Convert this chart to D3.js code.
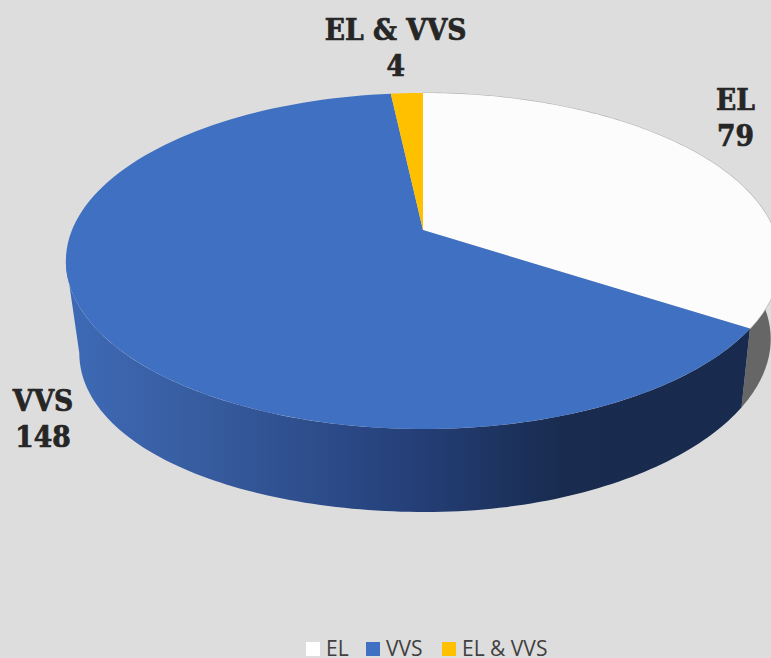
<!DOCTYPE html>
<html><head><meta charset="utf-8">
<script src="https://cdn.jsdelivr.net/npm/d3@7"></script>
<style>html,body{margin:0;padding:0;background:#dddddd;overflow:hidden}svg{display:block}</style>
</head><body><div id="c"></div>
<script>
const categories = ["EL", "VVS", "EL & VVS"];
const values = [79, 148, 4];
const sliceColors = ["#fcfcfc", "#4070c1", "#ffc000"];
const sideColors = ["#666666", "url(#blueSide)", "#b38600"];
const W = 771, H = 658;
const svg = d3.select("#c").append("svg").attr("width", W).attr("height", H);
svg.append("rect").attr("width", W).attr("height", H).attr("fill", "#dddddd");

const cx = 423, cy = 230, persp = -0.1845, kx = 351, ky = 162.3;
const shrink = 0.968;
const top3d = a => {
  const u = Math.sin(a), v = -Math.cos(a), w = 1 + persp * v;
  return [cx + kx * u / w, cy + ky * v / w];
};
const low3d = a => {
  const p = top3d(a), px = (p[0] - cx) / 357;
  return [cx + 2 + (p[0] - cx) * shrink, p[1] + 83 + px * px * (px < 0 ? 9 : -5)];
};
const arcs = d3.pie().sort(null).value(d => d)(values);
const line = d3.line();
const sample = (a0, a1) => d3.range(0, 121).map(i => a0 + (a1 - a0) * i / 120);
// the rim is only visible between the two silhouette angles
const frontStart = Math.acos(persp), frontEnd = 2 * Math.PI - frontStart;

const defs = svg.append("defs");
const grad = defs.append("linearGradient").attr("id", "blueSide")
  .attr("gradientUnits", "userSpaceOnUse").attr("x1", 66).attr("x2", 750).attr("y1", 0).attr("y2", 0);
[[0, "#3e6ab6"], [0.2, "#375c9f"], [0.5, "#25407a"], [0.72, "#192c50"], [1, "#182b4f"]]
  .forEach(s => grad.append("stop").attr("offset", s[0]).attr("stop-color", s[1]));

// sides
arcs.forEach((d, i) => {
  // right-hand rim of the first slice runs from the silhouette to its end
  const a0 = Math.max(d.startAngle, i === 0 ? frontStart - 0.5 : frontStart);
  const a1 = Math.min(d.endAngle, frontEnd);
  if (a1 <= a0) return;
  const as = sample(a0, a1);
  svg.append("path")
    .attr("d", line(as.map(top3d).concat(as.slice().reverse().map(low3d))) + "Z")
    .attr("fill", sideColors[i]);
});
// faint edge behind the white slice
svg.append("path").attr("d", line(sample(arcs[0].startAngle, arcs[0].endAngle).map(top3d)))
  .attr("fill", "none").attr("stroke", "#b5b5b5").attr("stroke-width", 1.2);
// top faces
arcs.forEach((d, i) => {
  const as = sample(d.startAngle, d.endAngle);
  svg.append("path")
    .attr("d", line([[cx, cy]].concat(as.map(top3d))) + "Z")
    .attr("fill", sliceColors[i]);
});
// data labels
const labelFont = "'DejaVu Serif Condensed', 'DejaVu Serif', serif";
const labels = [
  { i: 0, x: 735.5, y: 110 },
  { i: 1, x: 43, y: 411 },
  { i: 2, x: 395.7, y: 40 }
];
labels.forEach(l => {
  const t = svg.append("text").attr("text-anchor", "middle")
    .attr("font-family", labelFont).attr("font-weight", 700)
    .attr("font-size", 29.5).attr("fill", "#262626")
    .attr("stroke", "#262626").attr("stroke-width", 0.7);
  t.append("tspan").attr("x", l.x).attr("y", l.y).text(categories[l.i]);
  t.append("tspan").attr("x", l.x).attr("y", l.y + 36).text(values[l.i]);
});
// legend
const legendX = [306, 366, 442];
categories.forEach((c, i) => {
  svg.append("rect").attr("x", legendX[i]).attr("y", 642).attr("width", 14).attr("height", 14).attr("fill", i === 0 ? "#ffffff" : sliceColors[i]);
  svg.append("text").attr("x", legendX[i] + 20).attr("y", 655.7)
    .attr("font-family", "'Open Sans', sans-serif").attr("font-size", 21).attr("fill", "#404040").text(c);
});
</script></body></html>
